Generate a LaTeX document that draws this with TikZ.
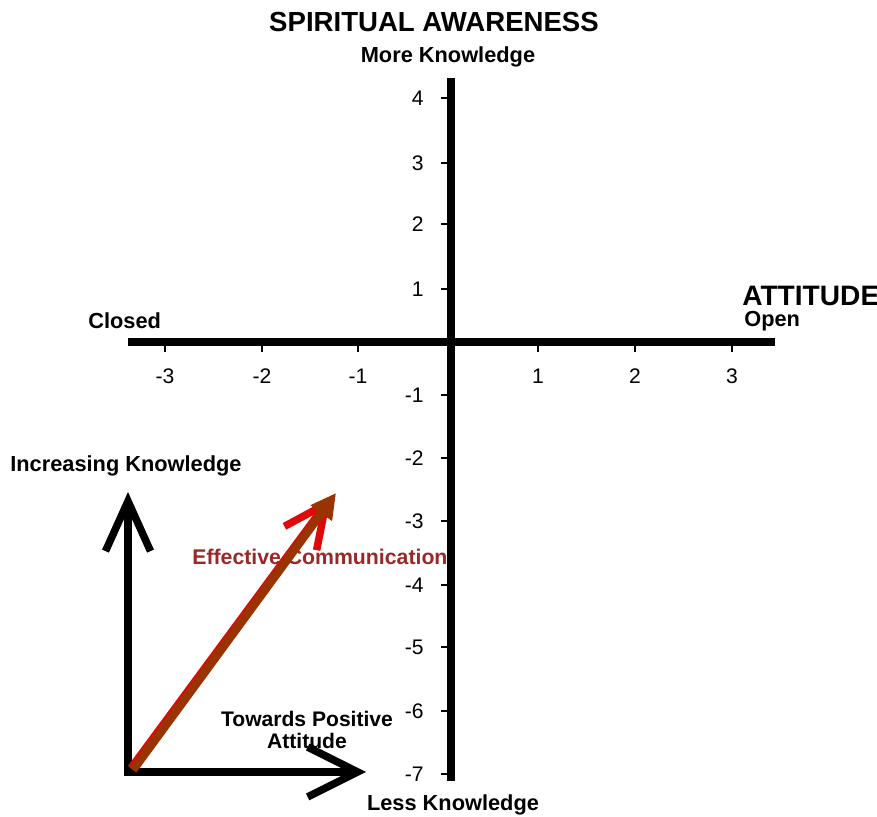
\documentclass[tikz,border=0pt]{standalone}
\usepackage{fontspec}
\setmainfont{Liberation Sans}
\usetikzlibrary{arrows.meta}
\definecolor{commred}{RGB}{155,40,40}
\definecolor{arrowbrown}{RGB}{153,51,0}
\definecolor{arrowred}{RGB}{222,10,10}

\begin{document}
\begin{tikzpicture}[
  x=0.02cm, y=-0.02cm,
  axis/.style={line width=0.16cm, black},
  tickmark/.style={line width=0.6pt, black},
  ticklabel/.style={font=\fontsize{12}{14}\selectfont, inner sep=0pt},
  heading/.style={font=\bfseries\fontsize{12.4}{14}\selectfont, inner sep=0pt},
  title/.style={font=\bfseries\fontsize{15.7}{18}\selectfont, inner sep=0pt},
  knowarrow/.style={line width=0.15cm, line cap=rect,
    -{Straight Barb[length=1.0cm, width=0.9cm]}},
  attarrow/.style={line width=0.15cm, line cap=rect,
    -{Straight Barb[length=1.0cm, width=1.0cm]}},
  redarrow/.style={line width=0.15cm, arrowred,
    -{Straight Barb[length=0.85cm, width=0.8cm]}},
  commarrow/.style={line width=0.17cm, arrowbrown,
    -{Triangle[length=0.5cm, width=0.5cm]}}
]
\useasboundingbox (0,0) rectangle (877,817);

% axes
\coordinate (top) at (451,78);
\coordinate (bottom) at (451,781);
\coordinate (left) at (128,342);
\coordinate (right) at (775,342);
\draw[axis] (left) -- (right);
\draw[axis] (top) -- (bottom);

\foreach \x/\lab in {165/-3, 262/-2, 358/-1, 538/1, 635/2, 732/3}{
  \draw[tickmark] (\x,346) -- (\x,352);
  \node[ticklabel] (x\lab) at (\x,376) {\lab};
}
\foreach \y/\lab in {98/4, 163/3, 224/2, 289/1, 395/-1, 458/-2, 521/-3,
                     585/-4, 647/-5, 711/-6, 774/-7}{
  \draw[tickmark] (441,\y) -- (447,\y);
  \node[ticklabel, anchor=east] (y\lab) at (424,\y) {\lab};
}

% labels
\node[title] (awareness) at (434,22) {SPIRITUAL AWARENESS};
\node[heading] (more) at (448,57) {More Knowledge};
\node[heading] (less) at (453,805) {Less Knowledge};
\node[title, font=\bfseries\fontsize{16}{18}\selectfont, anchor=west] (attitude) at (742,296) {ATTITUDE};
\node[heading, anchor=west] (open) at (744,321) {Open};
\node[heading, anchor=west] (closed) at (88,321) {Closed};

% knowledge / attitude arrows
\coordinate (origin) at (128,772);
\coordinate (knowtip) at (128,492);
\coordinate (atttip) at (366,772);
\draw[knowarrow] (origin) -- (knowtip);
\draw[attarrow] (origin) -- (atttip);
\node[heading, anchor=west] (increasing) at (10,466) {Increasing Knowledge};
\node[heading, align=center, font=\bfseries\fontsize{12}{12.5}\selectfont] (towards) at (307,730) {Towards Positive\\Attitude};

% effective communication
\node[heading, anchor=west, text=commred, font=\bfseries\fontsize{12.1}{14}\selectfont] (effective) at (192,557) {Effective Communication};
\coordinate (redstart) at (131,768);
\coordinate (redtip) at (331,497);
\coordinate (commstart) at (133,770);
\coordinate (commtip) at (336,493);
\draw[redarrow] (redstart) -- (redtip);
\draw[commarrow] (commstart) -- (commtip);
\end{tikzpicture}
\end{document}
